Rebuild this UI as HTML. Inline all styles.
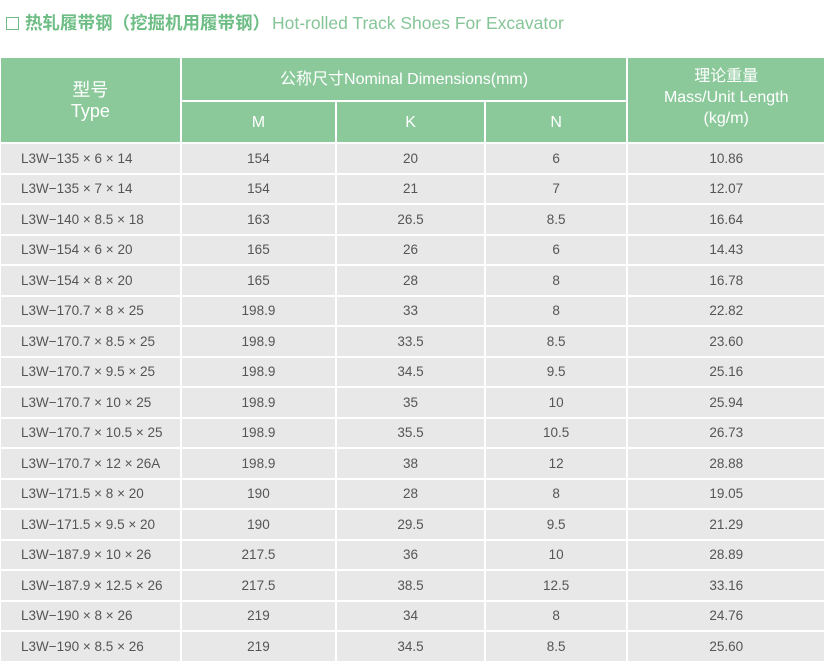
<!DOCTYPE html>
<html><head><meta charset="utf-8"><style>
html,body{margin:0;padding:0;background:#fff;width:827px;height:665px;overflow:hidden;font-family:"Liberation Sans","Noto Sans CJK SC",sans-serif;}
.title{position:absolute;left:6px;top:12px;font-size:17.5px;color:#6dbd85;white-space:nowrap;line-height:22px;}
.title .box{display:inline-block;width:11px;height:11px;border:1px solid #6dbd85;vertical-align:-1px;margin-right:6px;}
.title b{font-weight:bold;}
.title .en{color:#86c597;margin-left:2px;}
table{position:absolute;left:-1px;top:56px;border-collapse:separate;border-spacing:2px;table-layout:fixed;}
td,th{padding:0;text-align:center;font-weight:normal;}
th{background:#8bc99b;color:#fff;font-size:16px;line-height:21px;}
td{background:#e8e8e8;color:#555;font-size:13.5px;height:28.5px;}
td.t{text-align:left;padding-left:20px;}
</style></head><body>
<div class="title"><span class="box"></span><b>热轧履带钢（挖掘机用履带钢）</b><span class="en">Hot-rolled Track Shoes For Excavator</span></div>
<table>
<colgroup><col style="width:179px"><col style="width:154px"><col style="width:147px"><col style="width:141px"><col style="width:196px"></colgroup>
<tr><th rowspan="2" style="font-size:18px;line-height:21px;padding-top:2px">型号<br>Type</th><th colspan="3" style="height:42px">公称尺寸Nominal Dimensions(mm)</th><th rowspan="2" style="padding-bottom:6px">理论重量<br>Mass/Unit Length<br>(kg/m)</th></tr>
<tr><th style="height:40px">M</th><th>K</th><th>N</th></tr>
<tr><td class="t">L3W−135 × 6 × 14</td><td>154</td><td>20</td><td>6</td><td>10.86</td></tr>
<tr><td class="t">L3W−135 × 7 × 14</td><td>154</td><td>21</td><td>7</td><td>12.07</td></tr>
<tr><td class="t">L3W−140 × 8.5 × 18</td><td>163</td><td>26.5</td><td>8.5</td><td>16.64</td></tr>
<tr><td class="t">L3W−154 × 6 × 20</td><td>165</td><td>26</td><td>6</td><td>14.43</td></tr>
<tr><td class="t">L3W−154 × 8 × 20</td><td>165</td><td>28</td><td>8</td><td>16.78</td></tr>
<tr><td class="t">L3W−170.7 × 8 × 25</td><td>198.9</td><td>33</td><td>8</td><td>22.82</td></tr>
<tr><td class="t">L3W−170.7 × 8.5 × 25</td><td>198.9</td><td>33.5</td><td>8.5</td><td>23.60</td></tr>
<tr><td class="t">L3W−170.7 × 9.5 × 25</td><td>198.9</td><td>34.5</td><td>9.5</td><td>25.16</td></tr>
<tr><td class="t">L3W−170.7 × 10 × 25</td><td>198.9</td><td>35</td><td>10</td><td>25.94</td></tr>
<tr><td class="t">L3W−170.7 × 10.5 × 25</td><td>198.9</td><td>35.5</td><td>10.5</td><td>26.73</td></tr>
<tr><td class="t">L3W−170.7 × 12 × 26A</td><td>198.9</td><td>38</td><td>12</td><td>28.88</td></tr>
<tr><td class="t">L3W−171.5 × 8 × 20</td><td>190</td><td>28</td><td>8</td><td>19.05</td></tr>
<tr><td class="t">L3W−171.5 × 9.5 × 20</td><td>190</td><td>29.5</td><td>9.5</td><td>21.29</td></tr>
<tr><td class="t">L3W−187.9 × 10 × 26</td><td>217.5</td><td>36</td><td>10</td><td>28.89</td></tr>
<tr><td class="t">L3W−187.9 × 12.5 × 26</td><td>217.5</td><td>38.5</td><td>12.5</td><td>33.16</td></tr>
<tr><td class="t">L3W−190 × 8 × 26</td><td>219</td><td>34</td><td>8</td><td>24.76</td></tr>
<tr><td class="t">L3W−190 × 8.5 × 26</td><td>219</td><td>34.5</td><td>8.5</td><td>25.60</td></tr>
</table>
</body></html>
